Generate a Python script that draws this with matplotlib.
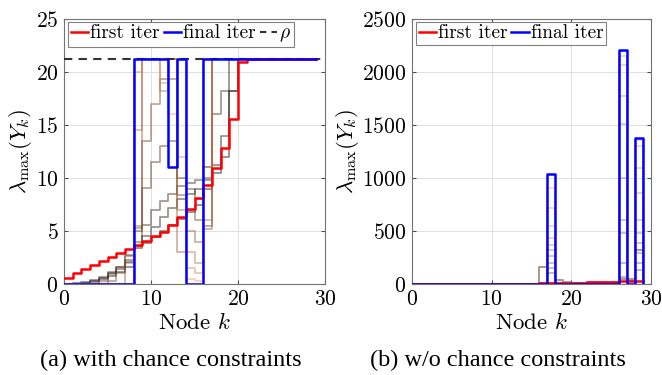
import numpy as np
import matplotlib
matplotlib.use("Agg")
import matplotlib.pyplot as plt
from matplotlib.colors import LinearSegmentedColormap
from matplotlib.lines import Line2D

plt.rcParams['font.family'] = 'serif'
plt.rcParams['font.serif'] = ['cmr10']
plt.rcParams['mathtext.fontset'] = 'cm'
plt.rcParams['axes.formatter.use_mathtext'] = True

# ---------------- data ----------------
nodes = list(range(30))
rho = 21.2
R = rho

# (a) with chance constraints
first_a = [0.6, 1.0, 1.45, 1.8, 2.2, 2.55, 2.95, 3.3, 3.7, 4.1, 4.5, 4.9, 5.6, 6.3,
           7.1, 8.1, 9.3, 10.9, 12.8, 15.6, 20.9] + [R] * 9
final_a = [0] * 8 + [R, R, R, R, 11.0, R, 0, 0] + [R] * 14
mid_a = [
    [0, 0.05, 0.15, 0.3, 0.5, 0.8, 1.1, 1.6, 3.4, 3.9, 4.4, 5.0, 5.6, 6.1, 6.8, 7.5,
     9.0, 10.5, 12.0, 18.2] + [R] * 10,
    [0, 0, 0.1, 0.35, 0.7, 1.05, 1.45, 2.1, 3.6, 4.5, 5.4, 6.3, 7.2, 8.0, 8.5, 9.0,
     9.8, 11.2, 14.0] + [R] * 11,
    [0, 0, 0, 0.2, 0.6, 1.1, 1.6, 2.3, 4.0, 5.6, 7.0, 7.8, 8.5, 9.2, 9.5, 9.8,
     11.0, 16.0, 18.2, 18.2] + [R] * 10,
    [0, 0, 0, 0, 0.3, 0.9, 1.6, 2.7, 5.0, 9.1, 11.5, 13.0, 13.5, 10.0, 9.0, 8.0,
     10.0] + [R] * 13,
    [0, 0, 0, 0, 0, 0.3, 1.0, 2.6, 5.3, 13.5, 17.0, 19.3, 19.3, 8.4, 7.0, 6.0,
     5.5] + [R] * 13,
    [0] * 7 + [2.0, 5.5, R, R, R, R, 3.0, 5.0, 4.0, 5.2] + [R] * 13,
    [0] * 8 + [14.5, R, R, 18.2, R, 7.0, 3.0, 2.0, 6.0] + [R] * 13,
    [0] * 8 + [20.0, R, R, 19.0, R, 12.0, 1.5, 1.0, 11.0] + [R] * 13,
    [0] * 8 + [R, R, R, R, 16.0, R, 0.5, 0.3, R] + [R] * 13,
]

# (b) w/o chance constraints
first_b = [0] * 15 + [3, 5, 8, 10, 12, 13, 14, 15, 16, 18, 22, 28, 30, 32, 32]
final_b = [0] * 17 + [1040] + [0] * 8 + [2210, 0, 1380, 0]
dark_b = [0] * 16 + [158, 5, 40, 20] + [5] * 6 + [50, 50, 320, 0]
spike17_b = [101, 149, 196, 265, 322, 369, 432, 549, 716, 905]
spike26_b = [69, 195, 479, 606, 1000, 1511, 1773, 2063, 2150, 2200]
spike28_b = [132, 195, 290, 385, 480, 600, 858, 1095, 1300, 1360]

# ---------------- figure ----------------
fig = plt.figure(figsize=(6.62, 3.75), dpi=100)
axA = fig.add_axes([64 / 662, 1 - 284 / 375, (325 - 64) / 662, (284 - 19) / 375])
axB = fig.add_axes([412 / 662, 1 - 284 / 375, (651 - 412) / 662, (284 - 19) / 375])

cmap = LinearSegmentedColormap.from_list(
    "mid", [(0.0, 0.0, 0.0), (0.45, 0.25, 0.12), (0.95, 0.6, 0.4)])

x = np.array(nodes)

def style(ax):
    ax.grid(True, color=(0.88, 0.88, 0.88), lw=0.7)
    ax.set_axisbelow(True)
    for s in ax.spines.values():
        s.set_color((0.45, 0.45, 0.45))
        s.set_linewidth(0.8)
    ax.tick_params(direction='in', length=3, color=(0.3, 0.3, 0.3),
                   labelsize=15.5, top=True, right=True, pad=4)
    ax.set_xlim(0, 30)
    ax.set_xticks([0, 10, 20, 30])
    ax.set_xlabel(r"Node $k$", fontsize=16.5, labelpad=2)
    ax.set_ylabel(r"$\lambda_{\max}(Y_k)$", fontsize=16.5, labelpad=1)

def legend(ax, handles, labels, ncol):
    leg = ax.legend(handles, labels, ncol=ncol, loc='upper left',
                    bbox_to_anchor=(0.015, 0.99), fontsize=14,
                    handlelength=0.9, handletextpad=0.1, columnspacing=0.2,
                    borderpad=0.15, borderaxespad=0.0, fancybox=False, framealpha=1)
    leg.get_frame().set_edgecolor((0.5, 0.5, 0.5))
    leg.get_frame().set_linewidth(0.8)
    return leg

# ---- panel (a)
n = len(mid_a)
for i, s in enumerate(mid_a):
    axA.step(x, s, where='post', color=cmap(i / (n - 1)), alpha=0.45, lw=1.3)
axA.axhline(rho, color=(0.2, 0.2, 0.2), ls=(0, (4, 3)), lw=1.5, zorder=3)
lr, = axA.step(x, first_a, where='post', color='red', lw=1.8, zorder=4)
lb, = axA.step(x, final_a, where='post', color='blue', lw=1.8, zorder=5)
style(axA)
axA.set_ylim(0, 25)
axA.set_yticks([0, 5, 10, 15, 20, 25])
hd = Line2D([], [], color=(0.2, 0.2, 0.2), ls=(0, (3, 2.5)), lw=1.5)
legend(axA, [lr, lb, hd], ["first iter", "final iter", r"$\rho$"], 3)

# ---- panel (b)
m = len(spike17_b)
axB.step(x, dark_b, where='post', color=(0.45, 0.25, 0.12), alpha=0.6, lw=1.3)
for i in range(m):
    s = list(first_b)
    s[17] = spike17_b[i]
    s[26] = spike26_b[i]
    s[28] = spike28_b[i]
    s[29] = 0
    axB.step(x, s, where='post', color=cmap(0.4 + 0.6 * i / (m - 1)), alpha=0.4, lw=1.2)
lr2, = axB.step(x, first_b, where='post', color='red', lw=1.8, zorder=4)
lb2, = axB.step(x, final_b, where='post', color='blue', lw=1.8, zorder=5)
style(axB)
axB.set_ylim(0, 2500)
axB.set_yticks([0, 500, 1000, 1500, 2000, 2500])
legend(axB, [lr2, lb2], ["first iter", "final iter"], 2)

# captions
fig.text(171 / 662, 1 - 360 / 375, "(a) with chance constraints", ha='center',
         va='center', fontsize=17.5, family='Liberation Serif')
fig.text(498 / 662, 1 - 360 / 375, "(b) w/o chance constraints", ha='center',
         va='center', fontsize=17.5, family='Liberation Serif')

fig.savefig("out.png", dpi=100)
